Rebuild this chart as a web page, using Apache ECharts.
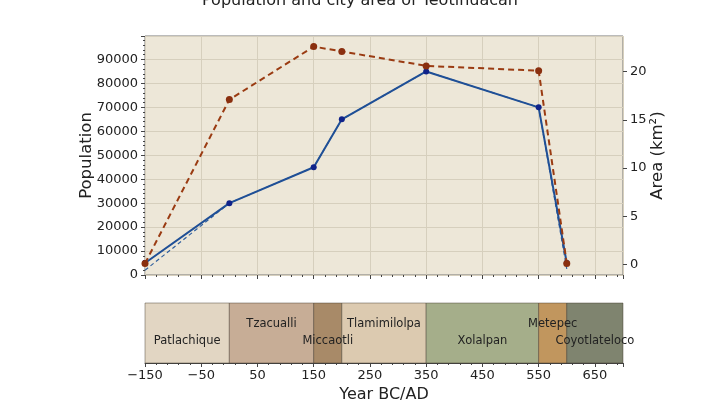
<!DOCTYPE html>
<html>
<head>
<meta charset="utf-8">
<script src="https://cdn.jsdelivr.net/npm/echarts@6/dist/echarts.min.js"></script>
<style>
  html, body { margin: 0; padding: 0; background: #fff; }
  #chart { width: 720px; height: 420px; }
</style>
</head>
<body>
<div id="chart"></div>
<script>
// data
const years = [-150, 0, 150, 200, 350, 550, 600];
const population = [5000, 30000, 45000, 65000, 85000, 70000, 5000];
const populationLow = [2000, 30000, 45000, 65000, 85000, 70000, 2500];
const area = [0.1, 17.1, 22.6, 22.1, 20.6, 20.1, 0.1];

const periodNames = ['Patlachique', 'Tzacualli', 'Miccaotli', 'Tlamimilolpa', 'Xolalpan', 'Metepec', 'Coyotlateloco'];
const periodStart = [-150, 0, 150, 200, 350, 550, 600];
const periodEnd = [0, 150, 200, 350, 550, 600, 700];
const periodColors = ['#e2d6c3', '#c7ad96', '#a88a68', '#dccab0', '#a5ae8a', '#c1965e', '#7f846f'];
const labelRow = [0.37, 0.65, 0.37, 0.65, 0.37, 0.65, 0.37];

const font = 'DejaVu Sans';
const pair = (xs, ys) => xs.map((x, i) => [x, ys[i]]);

const chart = echarts.init(document.getElementById('chart'), null, { renderer: 'canvas' });

chart.setOption({
  animation: false,
  textStyle: { fontFamily: font },
  title: {
    text: 'Population and city area of Teotihuacan',
    left: 'center', top: -12,
    textStyle: { fontFamily: font, fontSize: 16, fontWeight: 'normal', color: '#222' }
  },
  grid: [
    { left: 145, top: 36, width: 478, height: 239, show: true,
      backgroundColor: '#ede7d8', borderColor: '#777', borderWidth: 1 },
    { left: 145, top: 303, width: 478, height: 60 }
  ],
  xAxis: [
    { type: 'value', gridIndex: 0, min: -150, max: 700, interval: 100,
      axisLine: { show: false, onZero: false },
      axisTick: { show: true, length: 4, lineStyle: { color: '#444' } },
      minorTick: { show: true, splitNumber: 5, length: 2, lineStyle: { color: '#444' } },
      axisLabel: { show: false },
      splitLine: { show: true, lineStyle: { color: '#d6cfbd', width: 1 } } },
    { type: 'value', gridIndex: 1, min: -150, max: 700, interval: 100,
      name: 'Year BC/AD', nameLocation: 'middle', nameGap: 24,
      nameTextStyle: { fontFamily: font, fontSize: 16, color: '#222' },
      axisLine: { show: true, onZero: false, lineStyle: { color: '#444' } },
      axisTick: { show: true, length: 4, lineStyle: { color: '#444' } },
      minorTick: { show: true, splitNumber: 5, length: 2, lineStyle: { color: '#444' } },
      axisLabel: { fontFamily: font, fontSize: 13, color: '#222', margin: 6, showMaxLabel: false,
        formatter: v => (v < 0 ? '\u2212' + (-v) : String(v)) },
      splitLine: { show: false } }
  ],
  yAxis: [
    { type: 'value', gridIndex: 0, min: 0, max: 99800, interval: 10000,
      name: 'Population', nameLocation: 'middle', nameGap: 50, nameMoveOverlap: false,
      nameTextStyle: { fontFamily: font, fontSize: 16.5, color: '#222' },
      axisLine: { show: false, onZero: false },
      axisTick: { show: true, length: 4, lineStyle: { color: '#444' } },
      minorTick: { show: true, splitNumber: 5, length: 2, lineStyle: { color: '#444' } },
      axisLabel: { fontFamily: font, fontSize: 13, color: '#222', margin: 7, showMaxLabel: false,
        formatter: v => String(v) },
      splitLine: { show: true, lineStyle: { color: '#d6cfbd', width: 1 } } },
    { type: 'value', gridIndex: 0, position: 'right', min: -1.1, max: 23.7,
      name: 'Area (km\u00b2)', nameLocation: 'middle', nameGap: 26, nameMoveOverlap: false,
      nameTextStyle: { fontFamily: font, fontSize: 16.5, color: '#222' },
      axisLine: { show: false, onZero: false },
      axisTick: { show: true, length: 4, customValues: [0, 5, 10, 15, 20], lineStyle: { color: '#444' } },
      axisLabel: { fontFamily: font, fontSize: 13, color: '#222', margin: 7, customValues: [0, 5, 10, 15, 20] },
      splitLine: { show: false } },
    { type: 'value', gridIndex: 1, min: 0, max: 1, show: false, axisLine: { onZero: false } }
  ],
  series: [
    { type: 'custom', xAxisIndex: 1, yAxisIndex: 2,
      data: periodNames.map((n, i) => [periodStart[i], periodEnd[i], labelRow[i], i]),
      renderItem: (params, api) => {
        const i = api.value(3);
        const p0 = api.coord([api.value(0), 1]);
        const p1 = api.coord([api.value(1), 0]);
        const mid = api.coord([(api.value(0) + api.value(1)) / 2, api.value(2)]);
        return {
          type: 'group',
          children: [
            { type: 'rect',
              shape: { x: p0[0], y: p0[1], width: p1[0] - p0[0], height: p1[1] - p0[1] },
              style: { fill: periodColors[i], stroke: 'rgba(60,50,40,0.55)', lineWidth: 0.8 } },
            { type: 'text', x: mid[0], y: mid[1], z2: 10,
              style: { text: periodNames[i], fill: '#222', font: '11.5px "DejaVu Sans"',
                align: 'center', verticalAlign: 'middle' } }
          ]
        };
      } },
    { type: 'line', xAxisIndex: 0, yAxisIndex: 0, data: pair(years, populationLow),
      symbol: 'none', z: 2,
      lineStyle: { color: '#2f5f9e', width: 1.2, type: [4, 3] } },
    { type: 'line', xAxisIndex: 0, yAxisIndex: 0, data: pair(years, population),
      symbol: 'circle', symbolSize: 6, z: 3,
      itemStyle: { color: '#10238a' },
      lineStyle: { color: '#1f4f96', width: 2 } },
    { type: 'line', xAxisIndex: 0, yAxisIndex: 1, data: pair(years, area),
      symbol: 'circle', symbolSize: 7, z: 4,
      itemStyle: { color: '#8a2f0f' },
      lineStyle: { color: '#9a3b12', width: 2, type: [6, 4] } }
  ]
});
</script>
</body>
</html>
